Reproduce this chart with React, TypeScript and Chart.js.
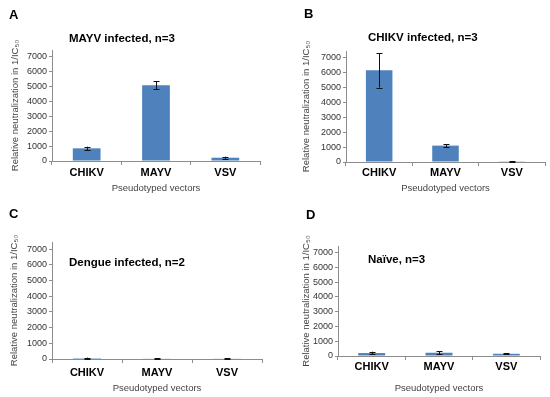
import React, { useEffect, useRef } from 'react';
import { Chart, registerables } from 'chart.js';

Chart.register(...registerables);

// ---- data ----
const categories = ['CHIKV', 'MAYV', 'VSV'];
const yTickValues = [0, 1000, 2000, 3000, 4000, 5000, 6000, 7000];
const yMax = 7450;

const mayvInfectedValues = [850, 5080, 220];
const mayvInfectedErrors = [110, 280, 70];

const chikvInfectedValues = [6150, 1100, 50];
const chikvInfectedErrors = [1150, 110, 20];

const dengueInfectedValues = [60, 40, 40];
const dengueInfectedErrors = [30, 10, 10];

const naiveValues = [200, 220, 150];
const naiveErrors = [90, 110, 40];

const panelLetters = ['A', 'B', 'C', 'D'];
const panelTitles = ['MAYV infected, n=3', 'CHIKV infected, n=3', 'Dengue infected, n=2', 'Naïve, n=3'];
const xAxisTitle = 'Pseudotyped vectors';
const yAxisTitle = 'Relative neutralization in 1/IC₅₀';

// ---- styles / layout ----
const FONT = "'Liberation Sans', Arial, Helvetica, sans-serif";
const BAR = '#4F81BD';
const AXIS = '#8C8C8C';

type PanelCfg = {
  x: number; y: number; w: number; h: number;
  area: { left: number; right: number; top: number; bottom: number };
  values: number[]; errors: number[];
  letter: string; title: string;
  letterPos: [number, number]; titlePos: [number, number];
  yTitlePad: number; xTitlePad: number; xTickPad: number;
};

const panels: PanelCfg[] = [
  {
    x: 0, y: 0, w: 275, h: 198,
    area: { left: 52, right: 260, top: 50, bottom: 161 },
    values: mayvInfectedValues, errors: mayvInfectedErrors,
    letter: panelLetters[0], title: panelTitles[0],
    letterPos: [9, 19], titlePos: [69, 42],
    yTitlePad: 9.3, xTitlePad: 4.3, xTickPad: 1.3,
  },
  {
    x: 275, y: 0, w: 275, h: 198,
    area: { left: 71, right: 270, top: 51, bottom: 162 },
    values: chikvInfectedValues, errors: chikvInfectedErrors,
    letter: panelLetters[1], title: panelTitles[1],
    letterPos: [29, 18], titlePos: [93, 41],
    yTitlePad: 26, xTitlePad: 4.3, xTickPad: 0,
  },
  {
    x: 0, y: 198, w: 275, h: 199,
    area: { left: 52, right: 262, top: 44, bottom: 161 },
    values: dengueInfectedValues, errors: dengueInfectedErrors,
    letter: panelLetters[2], title: panelTitles[2],
    letterPos: [9, 20], titlePos: [69, 68],
    yTitlePad: 8.6, xTitlePad: 3.3, xTickPad: 3,
  },
  {
    x: 275, y: 198, w: 275, h: 199,
    area: { left: 63, right: 265, top: 48, bottom: 158 },
    values: naiveValues, errors: naiveErrors,
    letter: panelLetters[3], title: panelTitles[3],
    letterPos: [31, 21], titlePos: [93, 65],
    yTitlePad: 26, xTitlePad: 3.3, xTickPad: 0,
  },
];

const errorBarPlugin = {
  id: 'errorBars',
  afterDatasetsDraw(chart: any, _args: any, opts: any) {
    const { ctx } = chart;
    const yScale = chart.scales.y;
    const meta = chart.getDatasetMeta(0);
    const vals: number[] = chart.data.datasets[0].data;
    const errs: number[] = opts.errors || [];
    ctx.save();
    ctx.strokeStyle = '#111';
    ctx.lineWidth = 1;
    meta.data.forEach((bar: any, i: number) => {
      const e = errs[i];
      if (!e) return;
      const x = Math.round(bar.x) + 0.5;
      const yTop = yScale.getPixelForValue(vals[i] + e);
      const yBot = yScale.getPixelForValue(Math.max(0, vals[i] - e));
      ctx.beginPath();
      ctx.moveTo(x, yTop);
      ctx.lineTo(x, yBot);
      ctx.moveTo(x - 3, Math.round(yTop) + 0.5);
      ctx.lineTo(x + 3, Math.round(yTop) + 0.5);
      ctx.moveTo(x - 3, Math.round(yBot) + 0.5);
      ctx.lineTo(x + 3, Math.round(yBot) + 0.5);
      ctx.stroke();
    });
    ctx.restore();
  },
};

const panelTextPlugin = {
  id: 'panelText',
  afterDraw(chart: any, _args: any, opts: any) {
    const { ctx } = chart;
    ctx.save();
    ctx.fillStyle = '#000';
    ctx.textAlign = 'left';
    ctx.textBaseline = 'alphabetic';
    ctx.font = `bold 13px ${FONT}`;
    ctx.fillText(opts.letter, opts.letterPos[0], opts.letterPos[1]);
    ctx.font = `bold 11.5px ${FONT}`;
    ctx.fillText(opts.title, opts.titlePos[0], opts.titlePos[1]);
    ctx.restore();
  },
};

function Panel({ cfg }: { cfg: PanelCfg }) {
  const ref = useRef<HTMLCanvasElement>(null);
  useEffect(() => {
    if (!ref.current) return;
    const chart = new Chart(ref.current, {
      type: 'bar',
      data: {
        labels: categories,
        datasets: [{
          data: cfg.values,
          backgroundColor: BAR,
          borderWidth: 0,
          barPercentage: 0.4,
          categoryPercentage: 1,
        }],
      },
      options: {
        animation: false,
        responsive: false,
        maintainAspectRatio: false,
        layout: { padding: { left: 0, top: cfg.area.top, right: cfg.w - cfg.area.right, bottom: 0 } },
        plugins: {
          legend: { display: false },
          tooltip: { enabled: false },
          title: { display: false },
          errorBars: { errors: cfg.errors },
          panelText: { letter: cfg.letter, title: cfg.title, letterPos: cfg.letterPos, titlePos: cfg.titlePos },
        } as any,
        scales: {
          x: {
            afterFit: (s: any) => { s.height = cfg.h - cfg.area.bottom; },
            grid: { display: true, drawOnChartArea: false, drawTicks: true, tickLength: 4, color: AXIS, offset: true },
            border: { display: true, color: AXIS, width: 1 },
            ticks: { color: '#000', font: { family: FONT, size: 11, weight: 'bold' }, padding: cfg.xTickPad, maxRotation: 0 },
            title: { display: true, text: xAxisTitle, color: '#444', font: { family: FONT, size: 9.5 }, padding: { top: 0, bottom: cfg.xTitlePad } },
          },
          y: {
            min: 0,
            max: yMax,
            afterFit: (s: any) => { s.width = cfg.area.left; },
            afterBuildTicks: (s: any) => { s.ticks = yTickValues.map((v) => ({ value: v })); },
            grid: { display: true, drawOnChartArea: false, drawTicks: true, tickLength: 3, color: AXIS },
            border: { display: true, color: AXIS, width: 1 },
            ticks: { color: '#333', font: { family: FONT, size: 9 }, padding: 2, callback: (v: any) => String(v) },
            title: { display: true, text: yAxisTitle, color: '#444', font: { family: FONT, size: 9.5 }, padding: { top: cfg.yTitlePad, bottom: 0 } },
          },
        },
      } as any,
      plugins: [errorBarPlugin, panelTextPlugin],
    });
    return () => chart.destroy();
  }, [cfg]);
  return (
    <canvas
      ref={ref}
      width={cfg.w}
      height={cfg.h}
      style={{ position: 'absolute', left: cfg.x, top: cfg.y, width: cfg.w, height: cfg.h }}
    />
  );
}

export default function App() {
  return (
    <div style={{ position: 'absolute', left: 0, top: 0, width: 550, height: 397, background: '#fff', overflow: 'hidden' }}>
      {panels.map((p, i) => <Panel key={i} cfg={p} />)}
    </div>
  );
}
